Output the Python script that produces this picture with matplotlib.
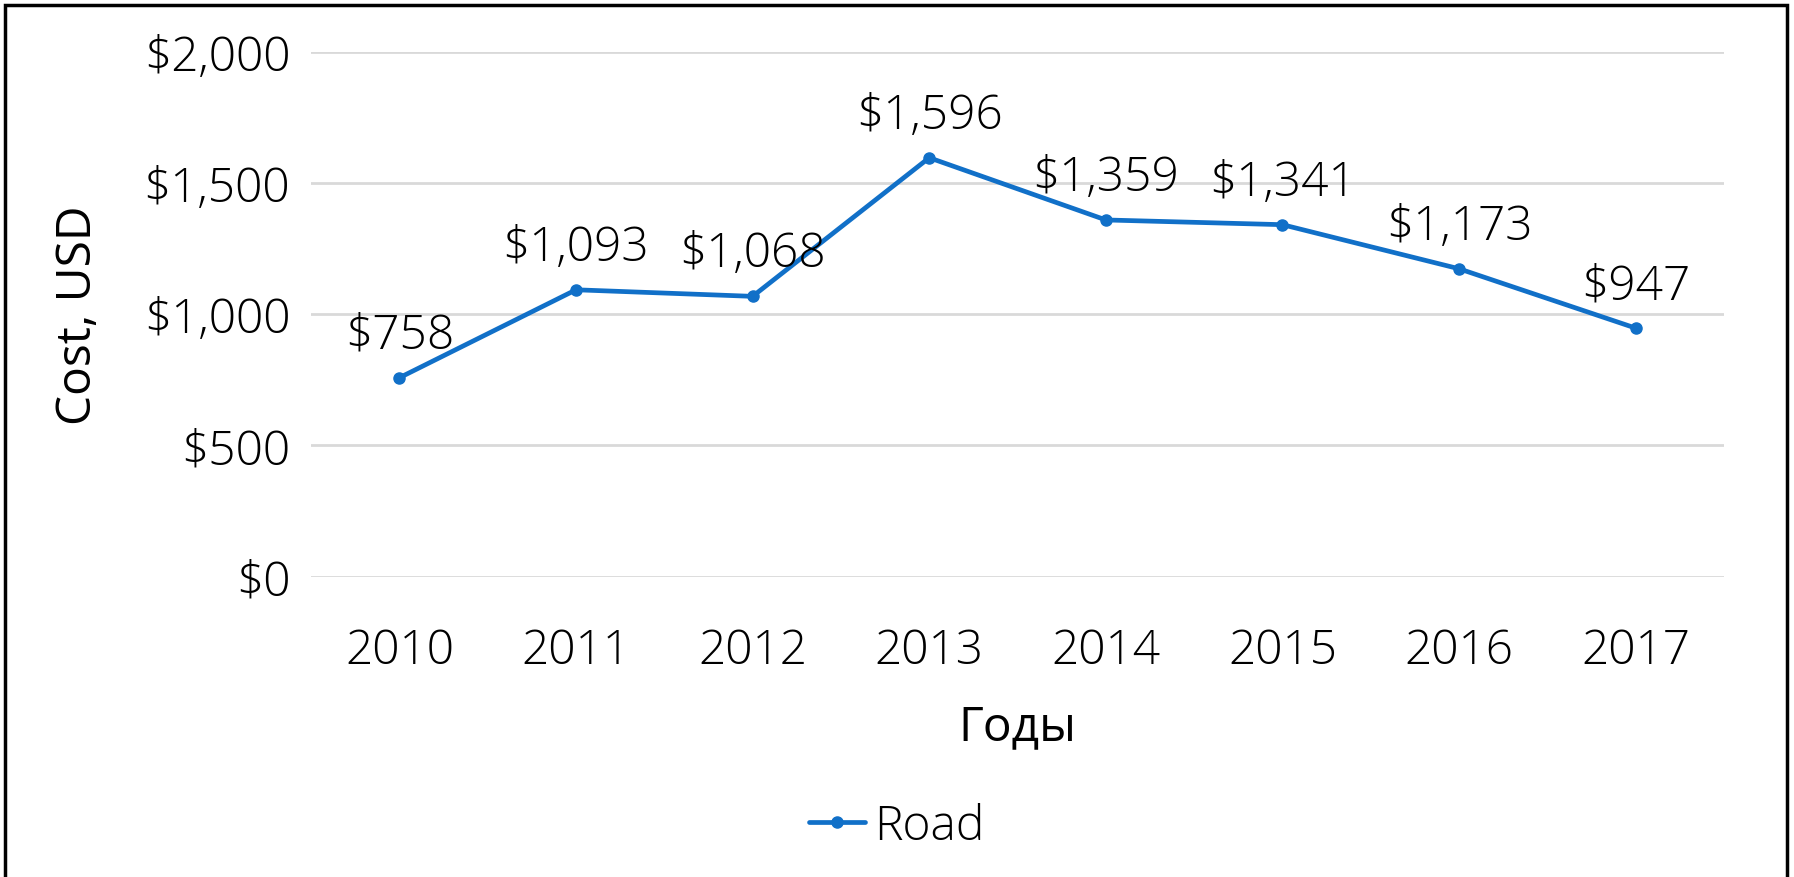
import matplotlib
matplotlib.use("Agg")
import matplotlib.pyplot as plt
from matplotlib.patches import Rectangle

years = ["2010", "2011", "2012", "2013", "2014", "2015", "2016", "2017"]
road_cost = [758, 1093, 1068, 1596, 1359, 1341, 1173, 947]
y_ticks = [0, 500, 1000, 1500, 2000]

LINE_COLOR = "#1170C8"
FS = 34.5

plt.rcParams["font.family"] = ["Open Sans", "DejaVu Sans"]
plt.rcParams["font.weight"] = "light"

fig = plt.figure(figsize=(17.94, 8.78), dpi=100)
ax = fig.add_axes([0.1734, 0.342, 0.7876, 0.598])

x = list(range(len(years)))
line, = ax.plot(x, road_cost, color=LINE_COLOR, linewidth=3.4,
                marker="o", markersize=8, label="Road", solid_capstyle="round")

for xi, v in zip(x, road_cost):
    ax.annotate(f"${v:,}", (xi, v), xytext=(0, 13), textcoords="offset points",
                ha="center", va="bottom", fontsize=FS)

ax.set_xlim(-0.5, len(years) - 0.5)
ax.set_ylim(0, 2000)
ax.set_yticks(y_ticks)
ax.set_yticklabels([f"${t:,}" for t in y_ticks])
ax.set_xticks(x)
ax.set_xticklabels(years)
ax.tick_params(axis="both", length=0, labelsize=FS)
ax.tick_params(axis="y", pad=15)
ax.tick_params(axis="x", pad=36)
ax.grid(axis="y", color="#D9D9D9", linewidth=2)
ax.set_axisbelow(True)
for s in ax.spines.values():
    s.set_visible(False)

ax.set_ylabel("Cost, USD", fontsize=FS, labelpad=30)
ax.set_xlabel("Годы", fontsize=FS, labelpad=20)

fig.legend(handles=[line], loc="center", bbox_to_anchor=(0.5, 0.057),
           frameon=False, fontsize=FS, handlelength=1.15, handletextpad=0.2)

fig.patches.append(Rectangle((0.003, -0.05), 0.993, 1.043, transform=fig.transFigure,
                             fill=False, edgecolor="black", linewidth=2.5))

fig.savefig("out.png", dpi=100)
